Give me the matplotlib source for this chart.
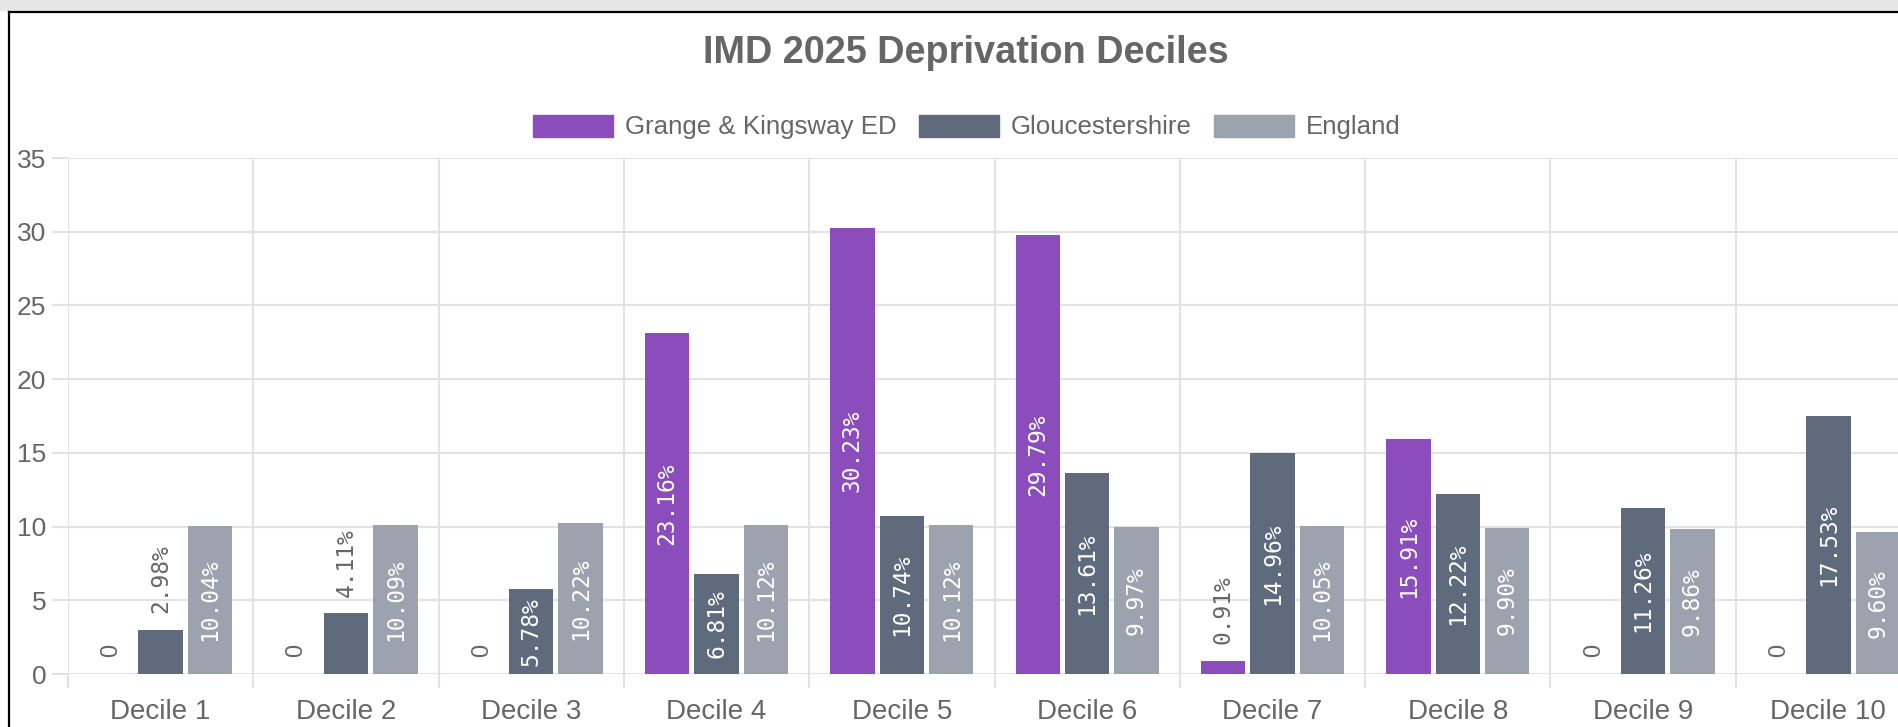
import numpy as np
import matplotlib
matplotlib.use('Agg')
import matplotlib.pyplot as plt
from matplotlib.patches import Patch, Rectangle
from matplotlib.lines import Line2D

categories = ['Decile 1', 'Decile 2', 'Decile 3', 'Decile 4', 'Decile 5',
              'Decile 6', 'Decile 7', 'Decile 8', 'Decile 9', 'Decile 10']
grange = [0, 0, 0, 23.16, 30.23, 29.79, 0.91, 15.91, 0, 0]
glos = [2.98, 4.11, 5.78, 6.81, 10.74, 13.61, 14.96, 12.22, 11.26, 17.53]
england = [10.04, 10.09, 10.22, 10.12, 10.12, 9.97, 10.05, 9.90, 9.86, 9.60]
series_names = ['Grange & Kingsway ED', 'Gloucestershire', 'England']
colors = ['#8b4dbb', '#5f6b7d', '#9ca3af']

W, H = 1898, 727
TXT = '#666666'
GRID = '#e3e3e3'
LBL_FONT = 'DejaVu Sans Mono'

plt.rcParams['font.family'] = ['Liberation Sans', 'DejaVu Sans']

fig = plt.figure(figsize=(W / 100, H / 100), dpi=100)

# screenshot frame: grey strip on top, black border left/top
fig.add_artist(Rectangle((0, 1 - 11 / H), 1, 11 / H, transform=fig.transFigure,
                         color='#e6e6e6', lw=0))
fig.add_artist(Line2D([9 / W, 1], [1 - 12 / H, 1 - 12 / H], transform=fig.transFigure,
                      color='black', lw=1.6))
fig.add_artist(Line2D([9 / W, 9 / W], [0, 1 - 12 / H], transform=fig.transFigure,
                      color='black', lw=1.6))

# plot area runs past the right edge (chart is clipped in the screenshot)
ax = fig.add_axes([68 / W, 53 / H, 1853 / W, 516 / H])

x = np.arange(len(categories))
slot = 0.8 / 3
width = slot * 0.9
data = [grange, glos, england]

for k, vals in enumerate(data):
    xs = x + (k - 1) * slot
    ax.bar(xs, vals, width, color=colors[k], zorder=2)
    for xi, v in zip(xs, vals):
        if v == 0:
            ax.annotate('0', (xi, 0), xytext=(0, 12), textcoords='offset points',
                        rotation=90, ha='center', va='bottom', color=TXT,
                        fontsize=17, family='Liberation Sans')
        elif v < 5:
            ax.annotate('%.2f%%' % v, (xi, v), xytext=(0, 12), textcoords='offset points',
                        rotation=90, ha='center', va='bottom', color=TXT,
                        fontsize=16.5, family=LBL_FONT)
        else:
            ax.text(xi, v / 2, '%.2f%%' % v, rotation=90, ha='center', va='center',
                    color='white', fontsize=16.5, family=LBL_FONT, zorder=3)

ax.set_xlim(-0.5, len(categories) - 0.5)
ax.set_ylim(0, 35)
ax.set_yticks(range(0, 36, 5))
ax.set_xticks(x)
ax.set_xticklabels(categories)
ax.set_xticks(np.arange(-0.5, len(categories), 1), minor=True)

ax.grid(True, axis='y', color=GRID, lw=1.5)
ax.grid(True, axis='x', which='minor', color=GRID, lw=1.5)
ax.set_axisbelow(True)
for s in ax.spines.values():
    s.set_visible(False)

ax.tick_params(axis='y', length=11.5, width=1.5, color=GRID, pad=4,
               labelsize=19, labelcolor=TXT)
ax.tick_params(axis='x', which='major', length=0, pad=18, labelsize=20, labelcolor=TXT)
ax.tick_params(axis='x', which='minor', length=10, width=1.5, color=GRID)

fig.text(966 / W, 1 - 53 / H, 'IMD 2025 Deprivation Deciles', ha='center', va='center',
         fontsize=27.3, fontweight='bold', color=TXT)

handles = [Patch(facecolor=c, edgecolor=c) for c in colors]
leg = fig.legend(handles, series_names, loc='center', bbox_to_anchor=(967 / W, 1 - 127 / H),
                 ncol=3, frameon=False, fontsize=18.6, handlelength=3.1, handleheight=0.93,
                 handletextpad=0.48, columnspacing=0.84, borderpad=0)
for t in leg.get_texts():
    t.set_color(TXT)

fig.savefig('out.png', dpi=100)
